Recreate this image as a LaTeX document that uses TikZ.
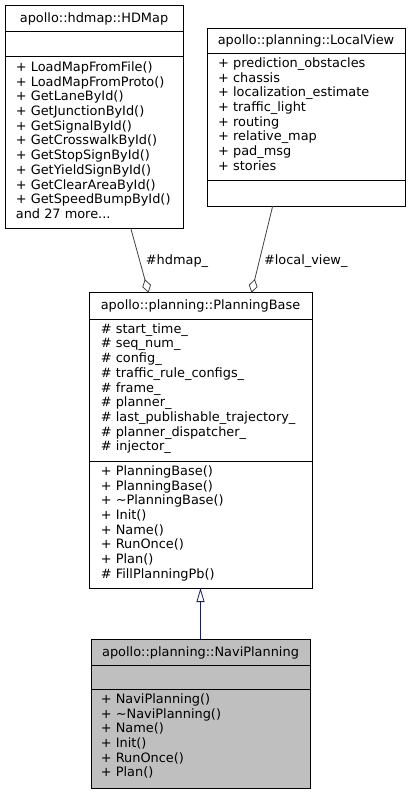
\documentclass[tikz,border=0pt]{standalone}
\usepackage{fontspec}
\setmainfont{DejaVu Sans}
\usetikzlibrary{arrows.meta}
\definecolor{edgegray}{HTML}{404040}
\definecolor{inhblue}{HTML}{191970}
\definecolor{boxgray}{HTML}{BFBFBF}
\begin{document}
\begin{tikzpicture}[x=1pt,y=-1pt,
  txt/.style={font=\fontsize{12.9}{14.7}\selectfont, inner sep=0pt, anchor=base west},
  ttl/.style={font=\fontsize{12.9}{14.7}\selectfont, inner sep=0pt, anchor=base},
  classbox/.style={draw=black, line width=0.9pt, anchor=north west, inner sep=0pt, outer sep=0pt},
  sepline/.style={draw=black, line width=0.9pt},
  agg/.style={draw=edgegray, line width=0.8pt, -{Diamond[open,length=14pt,width=9pt]}},
  inh/.style={draw=inhblue, line width=0.8pt, -{Triangle[open,length=14pt,width=8pt]}}]
\useasboundingbox (0,0) rectangle (413,795);

% ---- HDMap
\node[classbox, minimum width=178pt, minimum height=223pt] (hdmap) at (5,5) {};
\draw[sepline] (5,31.7) -- (183,31.7);
\draw[sepline] (5,56.7) -- (183,56.7);
\node[ttl] (hdmap-t) at (94,22.5) {apollo::hdmap::HDMap};
\foreach \s [count=\i from 0] in {{+ LoadMapFromFile()},{+ LoadMapFromProto()},{+ GetLaneById()},{+ GetJunctionById()},{+ GetSignalById()},{+ GetCrosswalkById()},{+ GetStopSignById()},{+ GetYieldSignById()},{+ GetClearAreaById()},{+ GetSpeedBumpById()}}
  \node[txt] (hdmap-\i) at (15.7, 71.4+\i*14.7) {\s};
\node[txt] (hdmap-more) at (15.7, 71.4+10*14.7) {and 27 more...};

% ---- LocalView
\node[classbox, minimum width=198pt, minimum height=178pt] (lview) at (207,28) {};
\draw[sepline] (207,53) -- (405,53);
\draw[sepline] (207,180) -- (405,180);
\node[ttl] (lview-t) at (306,44.7) {apollo::planning::LocalView};
\foreach \s [count=\i from 0] in {{+ prediction\_obstacles},{+ chassis},{+ localization\_estimate},{+ traffic\_light},{+ routing},{+ relative\_map},{+ pad\_msg},{+ stories}}
  \node[txt] (lview-\i) at (218, 67.4+\i*14.7) {\s};

% ---- PlanningBase
\node[classbox, minimum width=223pt, minimum height=295.3pt] (pbase) at (89,292.7) {};
\draw[sepline] (89,319) -- (312,319);
\draw[sepline] (89,461) -- (312,461);
\node[ttl] (pbase-t) at (200.5,309.6) {apollo::planning::PlanningBase};
\foreach \s [count=\i from 0] in {{\# start\_time\_},{\# seq\_num\_},{\# config\_},{\# traffic\_rule\_configs\_},{\# frame\_},{\# planner\_},{\# last\_publishable\_trajectory\_},{\# planner\_dispatcher\_},{\# injector\_}}
  \node[txt] (pbase-a\i) at (100.7, 333.2+\i*14.7) {\s};
\foreach \s [count=\i from 0] in {{+ PlanningBase()},{+ PlanningBase()},{+ \textasciitilde PlanningBase()},{+ Init()},{+ Name()},{+ RunOnce()},{+ Plan()},{\# FillPlanningPb()}}
  \node[txt] (pbase-m\i) at (100.7, 475.3+\i*14.7) {\s};

% ---- NaviPlanning
\node[classbox, fill=boxgray, minimum width=219pt, minimum height=149pt] (navi) at (91,639) {};
\draw[sepline] (91,665) -- (310,665);
\draw[sepline] (91,689) -- (310,689);
\node[ttl] (navi-t) at (200.5,656) {apollo::planning::NaviPlanning};
\foreach \s [count=\i from 0] in {{+ NaviPlanning()},{+ \textasciitilde NaviPlanning()},{+ Name()},{+ Init()},{+ RunOnce()},{+ Plan()}}
  \node[txt] (navi-\i) at (100.7, 703.3+\i*14.7) {\s};

% ---- connectors
\coordinate (hdA) at (130.7,228);
\coordinate (hdB) at (148.5,292.7);
\draw[agg] (hdA) -- (hdB);
\coordinate (lvA) at (272.7,206);
\coordinate (lvB) at (251.5,292.7);
\draw[agg] (lvA) -- (lvB);
\coordinate (npT) at (200.5,639);
\coordinate (pbB) at (200.5,588);
\draw[inh] (npT) -- (pbB);

\node[txt] (lbl-hd) at (145.7,264) {\#hdmap\_};
\node[txt] (lbl-lv) at (263.8,264) {\#local\_view\_};
\end{tikzpicture}
\end{document}
